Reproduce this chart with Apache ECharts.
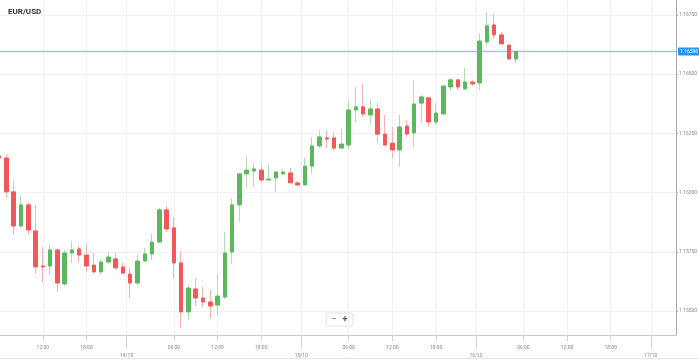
<!DOCTYPE html>
<html><head><meta charset="utf-8">
<script src="https://cdn.jsdelivr.net/npm/echarts@6/dist/echarts.min.js"></script>
<style>html,body{margin:0;padding:0;background:#fff}#c{width:699px;height:360px}</style>
</head><body><div id="c"></div>
<script>
// Hourly candle times
const times = [
'2021-10-13 06:00','2021-10-13 07:00','2021-10-13 08:00','2021-10-13 09:00','2021-10-13 10:00','2021-10-13 11:00',
'2021-10-13 12:00','2021-10-13 13:00','2021-10-13 14:00','2021-10-13 15:00','2021-10-13 16:00','2021-10-13 17:00',
'2021-10-13 18:00','2021-10-13 19:00','2021-10-13 20:00','2021-10-13 21:00','2021-10-13 22:00','2021-10-13 23:00',
'2021-10-14 00:00','2021-10-14 01:00','2021-10-14 02:00','2021-10-14 03:00','2021-10-14 04:00','2021-10-14 05:00',
'2021-10-14 06:00','2021-10-14 07:00','2021-10-14 08:00','2021-10-14 09:00','2021-10-14 10:00','2021-10-14 11:00',
'2021-10-14 12:00','2021-10-14 13:00','2021-10-14 14:00','2021-10-14 15:00','2021-10-14 16:00','2021-10-14 17:00',
'2021-10-14 18:00','2021-10-14 19:00','2021-10-14 20:00','2021-10-14 21:00','2021-10-14 22:00','2021-10-14 23:00',
'2021-10-15 00:00','2021-10-15 01:00','2021-10-15 02:00','2021-10-15 03:00','2021-10-15 04:00','2021-10-15 05:00',
'2021-10-15 06:00','2021-10-15 07:00','2021-10-15 08:00','2021-10-15 09:00','2021-10-15 10:00','2021-10-15 11:00',
'2021-10-15 12:00','2021-10-15 13:00','2021-10-15 14:00','2021-10-15 15:00','2021-10-15 16:00','2021-10-15 17:00',
'2021-10-15 18:00','2021-10-15 19:00','2021-10-15 20:00','2021-10-15 21:00','2021-10-15 22:00','2021-10-15 23:00',
'2021-10-16 00:00','2021-10-16 01:00','2021-10-16 02:00','2021-10-16 03:00','2021-10-16 04:00','2021-10-16 05:00'
];
const open = [
1.16155,1.16146,1.16003,1.15859,1.15948,1.15838,1.15690,1.15690,1.15758,1.15614,1.15745,1.15762,
1.15736,1.15694,1.15665,1.15707,1.15720,1.15686,1.15656,1.15618,1.15711,1.15741,1.15791,1.15927,
1.15851,1.15703,1.15496,1.15593,1.15555,1.15538,1.15525,1.15559,1.15749,1.15948,1.16079,1.16091,
1.16095,1.16053,1.16062,1.16079,1.16083,1.16041,1.16032,1.16112,1.16197,1.16231,1.16231,1.16188,
1.16201,1.16349,1.16362,1.16328,1.16353,1.16247,1.16209,1.16180,1.16281,1.16252,1.16378,1.16400,
1.16298,1.16332,1.16446,1.16476,1.16438,1.16467,1.16463,1.16636,1.16708,1.16666,1.16623,1.16564
];
const close = [
1.16146,1.16003,1.15859,1.15948,1.15842,1.15686,1.15686,1.15758,1.15618,1.15745,1.15758,1.15736,
1.15690,1.15665,1.15707,1.15728,1.15682,1.15660,1.15618,1.15711,1.15741,1.15791,1.15927,1.15846,
1.15703,1.15496,1.15597,1.15555,1.15538,1.15521,1.15563,1.15745,1.15948,1.16079,1.16095,1.16100,
1.16053,1.16057,1.16087,1.16087,1.16041,1.16032,1.16112,1.16197,1.16235,1.16226,1.16188,1.16205,
1.16349,1.16362,1.16332,1.16353,1.16247,1.16201,1.16180,1.16277,1.16247,1.16374,1.16404,1.16298,
1.16336,1.16450,1.16476,1.16446,1.16467,1.16459,1.16640,1.16704,1.16666,1.16628,1.16564,1.16596
];
const high = [
1.16159,1.16163,1.16053,1.15986,1.15960,1.15948,1.15770,1.15783,1.15762,1.15758,1.15796,1.15774,
1.15783,1.15745,1.15720,1.15749,1.15745,1.15703,1.15682,1.15736,1.15766,1.15825,1.15935,1.15943,
1.15897,1.15753,1.15610,1.15639,1.15601,1.15589,1.15656,1.15834,1.15977,1.16083,1.16155,1.16125,
1.16121,1.16121,1.16091,1.16100,1.16104,1.16049,1.16146,1.16235,1.16264,1.16264,1.16256,1.16273,
1.16391,1.16446,1.16459,1.16395,1.16378,1.16328,1.16277,1.16328,1.16307,1.16476,1.16412,1.16404,
1.16378,1.16450,1.16484,1.16480,1.16526,1.16476,1.16674,1.16763,1.16754,1.16678,1.16623,1.16598
];
const low = [
1.16138,1.15977,1.15821,1.15851,1.15821,1.15660,1.15622,1.15652,1.15580,1.15606,1.15703,1.15703,
1.15665,1.15660,1.15656,1.15698,1.15673,1.15656,1.15555,1.15610,1.15707,1.15715,1.15787,1.15834,
1.15639,1.15428,1.15462,1.15521,1.15517,1.15470,1.15483,1.15551,1.15698,1.15876,1.16019,1.16024,
1.16041,1.16053,1.16003,1.16074,1.16041,1.16028,1.16032,1.16079,1.16188,1.16188,1.16176,1.16188,
1.16180,1.16298,1.16319,1.16285,1.16209,1.16197,1.16146,1.16108,1.16235,1.16193,1.16294,1.16277,
1.16285,1.16332,1.16433,1.16433,1.16433,1.16450,1.16433,1.16619,1.16649,1.16628,1.16564,1.16547
];
const hourTicks = [
'2021-10-13 12:00','2021-10-13 18:00','2021-10-14 06:00','2021-10-14 12:00','2021-10-14 18:00',
'2021-10-15 06:00','2021-10-15 12:00','2021-10-15 18:00','2021-10-16 06:00','2021-10-16 12:00','2021-10-16 18:00'
];
const hourLabels = ['12:00','18:00','06:00','12:00','18:00','06:00','12:00','18:00','06:00','12:00','18:00'];
const dayTicks = ['2021-10-13 23:30','2021-10-14 23:30','2021-10-15 23:30','2021-10-16 23:30'];
const dayLabels = ['14/10','15/10','16/10','17/10'];
const yTicks = [1.155, 1.1575, 1.16, 1.1625, 1.165, 1.1675];
const lastPrice = 1.16596;
const xRange = ['2021-10-13 06:07', '2021-10-17 02:58'];
const yRange = [1.153986, 1.168133];

// time string -> hours since the first candle (x value on a linear axis)
function ts(s) {
  const [d, t] = s.split(' ');
  const [Y, M, D] = d.split('-').map(Number);
  const [h, m] = t.split(':').map(Number);
  return Date.UTC(Y, M - 1, D, h, m);
}
const BASE = ts(times[0]);
const hx = s => Math.round((ts(s) - BASE) / 60000) / 60;
const hourVals = hourTicks.map(hx);
const dayVals = dayTicks.map(hx);
const labelFor = (vals, labels, v) => { for (let i = 0; i < vals.length; i++) if (Math.abs(vals[i] - v) < 1e-6) return labels[i]; return ''; };

const fullRows = times.map((t, i) => [hx(t), open[i], close[i], low[i], high[i]]);
const bodyRows = times.map((t, i) => [hx(t), open[i], close[i], Math.min(open[i], close[i]), Math.max(open[i], close[i])]);
// current-price line spans the whole visible time range
const priceRows = [[hx(xRange[0]), lastPrice], [hx(xRange[1]), lastPrice]];

const UP = '#5cb85c', DOWN = '#f45757', UPW = '#b3dcb3', DOWNW = '#f8b1b1';
const FONT = 'Roboto';

const chart = echarts.init(document.getElementById('c'), null, {renderer: 'canvas'});
chart.setOption({
  animation: false,
  backgroundColor: '#fff',
  textStyle: {fontFamily: FONT},
  title: {
    text: 'EUR/USD', left: 8, top: 8, padding: 0,
    textStyle: {fontSize: 8, fontWeight: 'bold', color: '#333', fontFamily: FONT}
  },
  grid: {left: 0, right: 23, top: 0, bottom: 25, containLabel: false, outerBoundsMode: 'none'},
  xAxis: [{
    type: 'value', position: 'bottom', scale: true,
    min: hx(xRange[0]), max: hx(xRange[1]),
    axisLine: {show: true, lineStyle: {color: '#c8c8c8', width: 1}},
    axisTick: {show: true, customValues: hourVals, length: 6, lineStyle: {color: '#d0d0d0'}},
    axisLabel: {customValues: hourVals, formatter: v => labelFor(hourVals, hourLabels, v), fontSize: 5, color: '#888', margin: 10, lineHeight: 6},
    splitLine: {show: true, lineStyle: {color: '#f0f0f0', width: 1}}
  }, {
    type: 'value', position: 'bottom', scale: true,
    min: hx(xRange[0]), max: hx(xRange[1]),
    axisLine: {show: false},
    axisTick: {show: true, customValues: dayVals, length: 14, lineStyle: {color: '#d0d0d0'}},
    axisLabel: {customValues: dayVals, formatter: v => '\n' + labelFor(dayVals, dayLabels, v), fontSize: 5, color: '#888', margin: 10, lineHeight: 7},
    splitLine: {show: true, lineStyle: {color: '#f0f0f0', width: 1}}
  }],
  yAxis: {
    type: 'value', position: 'right', scale: true,
    min: yRange[0], max: yRange[1],
    axisLine: {show: true, lineStyle: {color: '#aaa', width: 1}},
    axisTick: {show: true, customValues: yTicks, length: 2, lineStyle: {color: '#aaa'}},
    axisLabel: {customValues: yTicks, formatter: v => v.toFixed(5), fontSize: 5, color: '#888', margin: 3},
    splitLine: {show: true, lineStyle: {color: '#f0f0f0', width: 1}}
  },
  series: [{
    name: 'wick', type: 'candlestick', xAxisIndex: 0,
    data: fullRows, barWidth: 1, z: 2,
    itemStyle: {color: UPW, color0: DOWNW, borderColor: UPW, borderColor0: DOWNW, borderWidth: 1},
    silent: true
  }, {
    name: 'EUR/USD', type: 'candlestick', xAxisIndex: 0,
    data: bodyRows, barWidth: 4, z: 3,
    itemStyle: {color: UP, color0: DOWN, borderColor: UP, borderColor0: DOWN, borderWidth: 1}
  }, {
    name: 'last', type: 'line', xAxisIndex: 0, z: 1,
    data: priceRows,
    symbol: 'none', showSymbol: false, silent: true, clip: false,
    lineStyle: {color: '#90cbf5', width: 1.5},
    endLabel: {
      show: true, formatter: () => lastPrice.toFixed(5),
      backgroundColor: '#2196f3', color: '#fff', fontSize: 5, fontFamily: FONT,
      padding: [2, 2, 1, 2], distance: 2, borderRadius: 1
    }
  }],
  graphic: [
    {type: 'line', shape: {x1: 0, y1: 358.5, x2: 699, y2: 358.5}, style: {stroke: '#e6e6e6', lineWidth: 1}, silent: true},
    {type: 'rect', shape: {x: 326, y: 313, width: 27, height: 13, r: 2}, style: {fill: '#fff', stroke: '#e2e2e2'}, silent: true},
    {type: 'text', x: 334, y: 319.5, style: {text: '−', fontSize: 9, fill: '#555', align: 'center', verticalAlign: 'middle', fontFamily: FONT}, silent: true},
    {type: 'text', x: 345, y: 319.5, style: {text: '+', fontSize: 9, fill: '#555', align: 'center', verticalAlign: 'middle', fontFamily: FONT, fontWeight: 'bold'}, silent: true}
  ]
});
</script>
</body></html>
